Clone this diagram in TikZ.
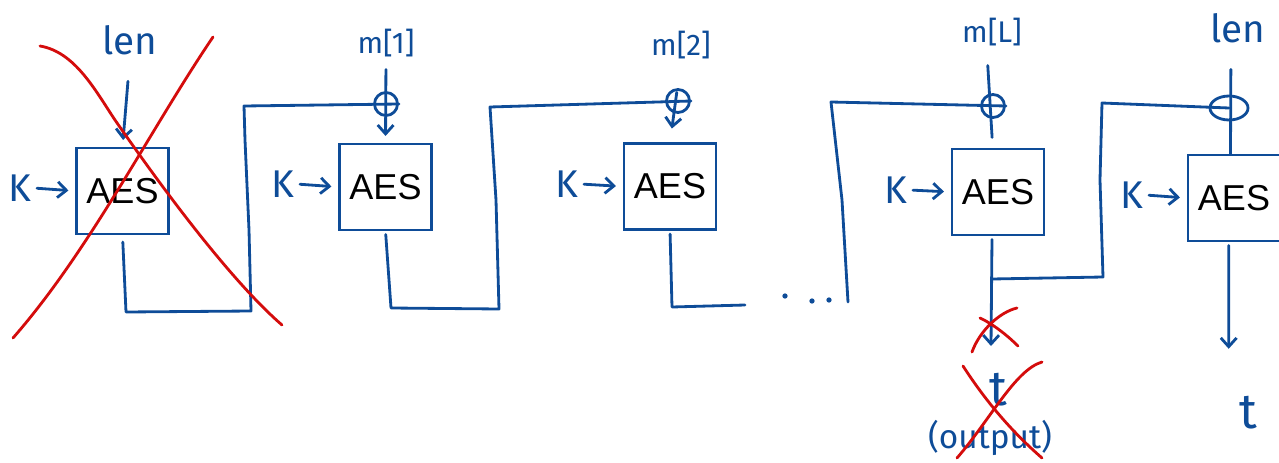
\documentclass[tikz,border=0pt]{standalone}
\usepackage{fontspec}
\setmainfont{Liberation Sans}
\newfontfamily\handfont{Fira Sans}
\usetikzlibrary{arrows.meta,shapes.geometric}
\definecolor{ink}{RGB}{14,76,152}
\definecolor{redink}{RGB}{212,12,12}
\begin{document}
\begin{tikzpicture}[x=0.02cm,y=-0.02cm,
  aes/.style={draw=ink, line width=1.2pt, minimum width=1.84cm, minimum height=1.72cm,
    font=\fontsize{20.5}{22}\selectfont, text=black, inner sep=0pt},
  lbl/.style={text=ink, font=\handfont\fontsize{22}{24}\selectfont, inner sep=1pt},
  mlbl/.style={text=ink, font=\handfont\fontsize{17}{19}\selectfont, inner sep=1pt},
  tlbl/.style={text=ink, font=\handfont\fontsize{28}{30}\selectfont, inner sep=1pt},
  wire/.style={draw=ink, line width=1.6pt, line cap=round, line join=round},
  arr/.style={wire, -{Straight Barb[length=5pt,width=9pt]}},
  xorc/.style={draw=ink, line width=1.6pt, circle, minimum size=0.46cm, inner sep=0pt},
  xore/.style={draw=ink, line width=1.6pt, ellipse, minimum width=0.76cm, minimum height=0.48cm, inner sep=0pt},
  strike/.style={draw=redink, line width=1.6pt, line cap=round}]
\useasboundingbox (0,0) rectangle (1279,463);

% AES blocks
\node[aes] (b1) at (122.5,191) {AES};
\node[aes] (b2) at (385.5,187) {AES};
\node[aes] (b3) at (670,186.5) {AES};
\node[aes] (b4) at (998,192) {AES};
\node[aes] (b5) at (1234,198) {AES};

% key inputs
\node[lbl] (k1) at (20,188) {K};
\node[lbl] (k2) at (283,184) {K};
\node[lbl] (k3) at (567,184) {K};
\node[lbl] (k4) at (896,190) {K};
\node[lbl] (k5) at (1132,195) {K};
\foreach \i in {1,...,5}
  \draw[arr, shorten <=2pt, shorten >=4pt] (k\i.east) -- (b\i.west);

% top inputs
\node[lbl] (len1) at (130,40) {len};
\node[mlbl] (m1) at (386,43) {m[1]};
\node[mlbl] (m2) at (681,45) {m[2]};
\node[mlbl] (mL) at (992,32) {m[L]};
\node[lbl] (len5) at (1238,28) {len};

% xor gates
\node[xorc] (x2) at (386,104) {};
\node[xorc] (x3) at (678,101) {};
\node[xorc] (x4) at (993,106) {};
\node[xore] (x5) at (1229,108) {};

\draw[arr, shorten <=14pt, shorten >=4pt] (len1.south) -- (b1.north);
\draw[arr, shorten <=6pt, shorten >=4pt] (m1.south) -- (b2.north);
\draw[arr, shorten <=18pt, shorten >=8pt] (m2.south) -- (b3.north);
\draw[wire, shorten <=10pt, shorten >=6pt] ([xshift=-3pt]mL.south) -- ([xshift=-3pt]b4.north);
\draw[wire, shorten <=14pt] ([xshift=-4pt]len5.south) -- ([xshift=-2pt]b5.north);

% chaining between blocks
\draw[wire, shorten <=4pt] (b1.south) -- (126,312) -- (251,311) -- (249,230) -- (245,140) -- (244,106) -- (x2.east);
\draw[wire, shorten <=2pt] (b2.south) -- (391,308) -- (499,309) -- (496,200) -- (490,107) -- (x3.east);
\draw[wire, shorten <=2pt] (b3.south) -- (672,307) -- (745,305);
\node[circle, fill=ink, inner sep=0pt, minimum size=3pt] (d1) at (785,296) {};
\node[circle, fill=ink, inner sep=0pt, minimum size=3pt] (d2) at (812,301) {};
\node[circle, fill=ink, inner sep=0pt, minimum size=3pt] (d3) at (829,300) {};
\draw[wire] (848,302) -- (842,200) -- (831,102) -- (x4.east);

% last full block: output and branch to the final block
\coordinate (j4) at (992,279);
\draw[arr, shorten <=2pt] ([xshift=-3.4pt]b4.south) -- (991,346);
\draw[wire] (j4) -- (1103,277) -- (1100,180) -- (1102,103) -- (x5.center);

% final block output
\node[tlbl] (t5) at (1248,413) {t};
\draw[arr, shorten <=2pt, shorten >=26pt] ([xshift=-3pt]b5.south) -- ([xshift=-11pt]t5.north);

% discarded output labels
\node[tlbl] (t4) at (998,390) {t};
\node[lbl, font=\handfont\fontsize{19}{21}\selectfont] (out4) at (990,438) {(output)};

% strike-outs
\draw[strike] (40,46) .. controls (75,52) and (95,90) .. (115,120)
  .. controls (160,185) and (230,280) .. (282,325);
\draw[strike] (13,338) .. controls (90,250) and (150,130) .. (213,37);
\draw[strike] (972,352) .. controls (980,330) and (1000,312) .. (1017,308);
\draw[strike] (980,318) .. controls (995,325) and (1010,338) .. (1018,346);
\draw[strike] (963,366) .. controls (985,400) and (1010,430) .. (1042,458);
\draw[strike] (957,458) .. controls (990,420) and (1015,370) .. (1042,362);
\end{tikzpicture}
\end{document}
